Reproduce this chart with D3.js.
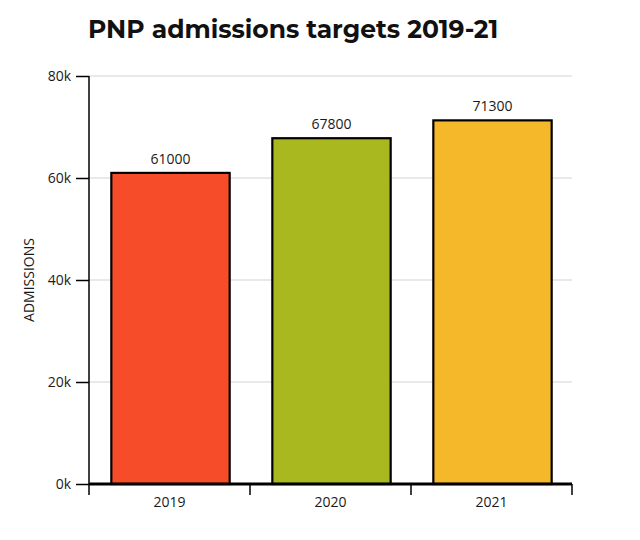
<!DOCTYPE html>
<html>
<head>
<meta charset="utf-8">
<script src="https://cdn.jsdelivr.net/npm/d3@7"></script>
<style>
  body { margin: 0; background: #fff; }
  text { font-family: "Open Sans", sans-serif; }
</style>
</head>
<body>
<div id="chart"></div>
<script>
// Chart data
var years = ["2019", "2020", "2021"];
var targets = [61000, 67800, 71300];
var barColors = ["#f74c29", "#a9b81e", "#f5b82a"];
var yTicks = [0, 20000, 40000, 60000, 80000];

var svgWidth = 640;
var svgHeight = 540;

var margin = {
  top: 76,
  right: 68,
  bottom: 56,
  left: 89
};

var width = svgWidth - margin.left - margin.right;
var height = svgHeight - margin.top - margin.bottom;

var svg = d3.select("#chart").append("svg")
    .attr("width", svgWidth)
    .attr("height", svgHeight);

// Title
svg.append("text")
    .attr("x", 88)
    .attr("y", 38)
    .style("font-family", "Montserrat, 'Open Sans', sans-serif")
    .style("font-weight", "bold")
    .style("font-size", "25px")
    .style("fill", "#111")
    .text("PNP admissions targets 2019-21");

var chartGroup = svg.append("g")
    .attr("transform", `translate(${margin.left}, ${margin.top})`);

// Scales
var xScale = d3.scaleBand()
    .domain(years)
    .range([0, width])
    .paddingInner(0)
    .paddingOuter(0);

var yScale = d3.scaleLinear()
    .domain([0, 80000])
    .range([height, 0]);

// Grid lines
chartGroup.append("g")
    .selectAll("line")
    .data(yTicks.slice(1))
    .enter()
    .append("line")
    .attr("x1", 0)
    .attr("x2", width)
    .attr("y1", d => yScale(d))
    .attr("y2", d => yScale(d))
    .attr("stroke", "#d3d3d3")
    .attr("stroke-width", 1);

// Left axis
var leftAxis = d3.axisLeft(yScale)
    .tickValues(yTicks)
    .tickSize(13)
    .tickPadding(5)
    .tickFormat(d => (d / 1000) + "k");

var yAxis = chartGroup.append("g")
    .call(leftAxis);
yAxis.select(".domain").remove();
yAxis.append("line")
    .attr("x1", 0).attr("x2", 0)
    .attr("y1", 0).attr("y2", height)
    .attr("stroke", "#000")
    .attr("stroke-width", 1.5);
yAxis.selectAll(".tick line").attr("stroke", "#000").attr("stroke-width", 1.5);
yAxis.selectAll(".tick text")
    .style("font-size", "14px")
    .style("fill", "#1a1a1a");

// Bars
var barWidth = xScale.bandwidth() * 0.735;

var barsGroup = chartGroup.selectAll(".bar")
    .data(years)
    .enter()
    .append("g");

barsGroup.append("rect")
    .attr("x", (d, i) => xScale(d) + (xScale.bandwidth() - barWidth) / 2 + 1)
    .attr("y", (d, i) => yScale(targets[i]))
    .attr("width", barWidth)
    .attr("height", (d, i) => height - yScale(targets[i]))
    .attr("fill", (d, i) => barColors[i])
    .attr("stroke", "#000")
    .attr("stroke-width", 2.2);

barsGroup.append("text")
    .attr("x", d => xScale(d) + xScale.bandwidth() / 2 + 1)
    .attr("y", (d, i) => yScale(targets[i]) - 9)
    .attr("text-anchor", "middle")
    .style("font-size", "14px")
    .style("fill", "#1a1a1a")
    .text((d, i) => targets[i]);

// Bottom axis
var xAxis = chartGroup.append("g")
    .attr("transform", `translate(0, ${height})`);

xAxis.append("line")
    .attr("x1", 0).attr("x2", width)
    .attr("y1", 0).attr("y2", 0)
    .attr("stroke", "#000")
    .attr("stroke-width", 3);

var edges = years.map(d => xScale(d)).concat([width]);
xAxis.selectAll(".edge")
    .data(edges)
    .enter()
    .append("line")
    .attr("x1", d => d).attr("x2", d => d)
    .attr("y1", 0).attr("y2", 11)
    .attr("stroke", "#000")
    .attr("stroke-width", 1.5);

xAxis.selectAll(".year")
    .data(years)
    .enter()
    .append("text")
    .attr("x", d => xScale(d) + xScale.bandwidth() / 2)
    .attr("y", 23)
    .attr("text-anchor", "middle")
    .style("font-size", "14px")
    .style("fill", "#1a1a1a")
    .text(d => d);

// Y axis label
svg.append("text")
    .attr("transform", "rotate(-90)")
    .attr("x", -280)
    .attr("y", 34)
    .attr("text-anchor", "middle")
    .style("font-size", "14px")
    .style("fill", "#1a1a1a")
    .text("ADMISSIONS");
</script>
</body>
</html>
